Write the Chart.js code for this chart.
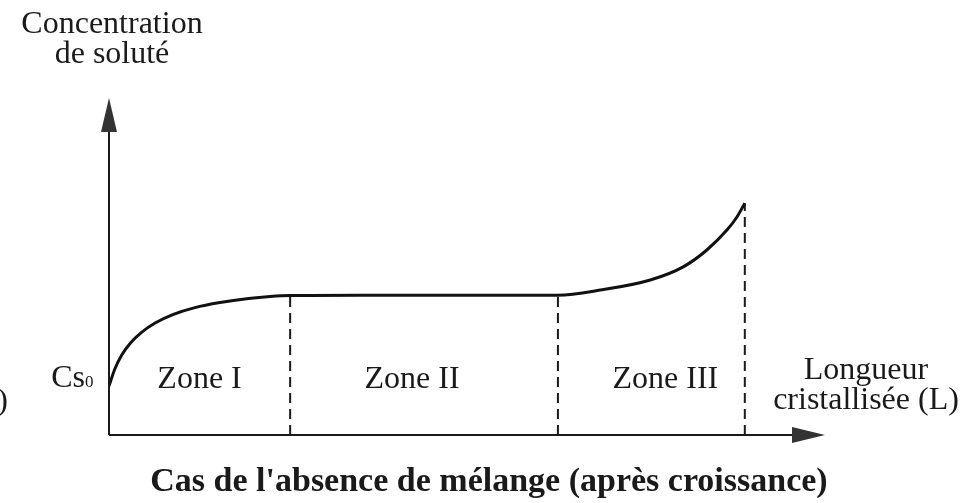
<!DOCTYPE html>
<html>
<head>
<meta charset="utf-8">
<script src="https://cdn.jsdelivr.net/npm/chart.js@4.4.1/dist/chart.umd.min.js"></script>
<style>
  html, body { margin: 0; padding: 0; background: #fff; }
  canvas { display: block; }
</style>
</head>
<body>
<canvas id="profil" width="980" height="503"></canvas>
<script>
// Profil de concentration le long du lingot (unités arbitraires)
const longueur = [0, 0.8, 1.8, 3.0, 4.5, 6.5, 9.0, 12.0, 15.5, 19.5, 22.5, 25.3, 35, 45, 55, 62.7, 68.6, 75.6, 80.2, 83.5, 86.3, 87.7, 88.8];
const concentration = [14.5, 19.5, 23.8, 27.3, 30.4, 33.3, 35.8, 37.8, 39.3, 40.5, 41.1, 41.4, 41.5, 41.5, 41.5, 41.5, 43.0, 46.0, 49.9, 54.9, 60.8, 64.7, 68.8];

// Limites des zones et leurs noms
const limitesZones = [25.3, 62.7, 88.8];
const nomsZones = ['Zone I', 'Zone II', 'Zone III'];

const courbe = longueur.map((x, i) => ({ x: x, y: concentration[i] }));

function concentrationEn(x) {
    const i = longueur.indexOf(x);
    return i >= 0 ? concentration[i] : 0;
}

const pointilles = limitesZones.map(x => ({
    data: [{ x: x, y: 0 }, { x: x, y: concentrationEn(x) }],
    borderColor: '#1a1a1a',
    borderWidth: 2,
    borderDash: [10, 6],
    pointRadius: 0,
    tension: 0
}));

const serif = '"Liberation Serif", "Times New Roman", serif';

// Axes flechés et textes du schéma
const habillage = {
    id: 'habillage',
    afterDraw(chart) {
        const ctx = chart.ctx;
        const a = chart.chartArea;
        const sx = chart.scales.x;
        ctx.save();
        ctx.strokeStyle = '#1a1a1a';
        ctx.fillStyle = '#333';
        ctx.lineWidth = 2;

        // axe des concentrations
        ctx.beginPath();
        ctx.moveTo(a.left, a.bottom);
        ctx.lineTo(a.left, a.top + 20);
        ctx.stroke();
        ctx.beginPath();
        ctx.moveTo(a.left, a.top);
        ctx.lineTo(a.left - 8, a.top + 34);
        ctx.lineTo(a.left + 8, a.top + 34);
        ctx.closePath();
        ctx.fill();

        // axe des longueurs
        ctx.beginPath();
        ctx.moveTo(a.left, a.bottom);
        ctx.lineTo(a.right - 20, a.bottom);
        ctx.stroke();
        ctx.beginPath();
        ctx.moveTo(a.right, a.bottom);
        ctx.lineTo(a.right - 33, a.bottom - 8);
        ctx.lineTo(a.right - 33, a.bottom + 8);
        ctx.closePath();
        ctx.fill();

        ctx.fillStyle = '#1a1a1a';
        ctx.font = '32px ' + serif;
        ctx.textAlign = 'center';
        ctx.textBaseline = 'alphabetic';
        ctx.fillText('Concentration', 112, 33);
        ctx.fillText('de soluté', 112, 63);

        ctx.fillText('Longueur', 866, 379);
        ctx.fillText('cristallisée (L)', 866, 409);

        // noms des zones, centrés entre les limites
        const decalage = [0, -12, 14];
        const bornes = [0].concat(limitesZones);
        nomsZones.forEach((nom, i) => {
            const milieu = (sx.getPixelForValue(bornes[i]) + sx.getPixelForValue(bornes[i + 1])) / 2;
            ctx.fillText(nom, milieu + decalage[i], 388);
        });

        ctx.textAlign = 'right';
        ctx.fillText('Cs', 85, 387);
        ctx.textAlign = 'left';
        ctx.font = '17px ' + serif;
        ctx.fillText('0', 85, 387);

        ctx.font = '32px ' + serif;
        ctx.textAlign = 'right';
        ctx.fillText(')', 8, 410);

        ctx.font = 'bold 34px ' + serif;
        ctx.textAlign = 'center';
        ctx.fillText("Cas de l'absence de mélange (après croissance)", 489, 491);
        ctx.restore();
    }
};

new Chart(document.getElementById('profil').getContext('2d'), {
    type: 'line',
    data: {
        datasets: [{
            data: courbe,
            borderColor: '#111',
            borderWidth: 3,
            pointRadius: 0,
            cubicInterpolationMode: 'monotone'
        }].concat(pointilles)
    },
    options: {
        responsive: false,
        animation: false,
        layout: { padding: { left: 109, right: 155, top: 98, bottom: 68 } },
        scales: {
            x: { type: 'linear', min: 0, max: 100, display: false },
            y: { min: 0, max: 100, display: false }
        },
        plugins: {
            legend: { display: false },
            tooltip: { enabled: false }
        }
    },
    plugins: [habillage]
});
</script>
</body>
</html>
